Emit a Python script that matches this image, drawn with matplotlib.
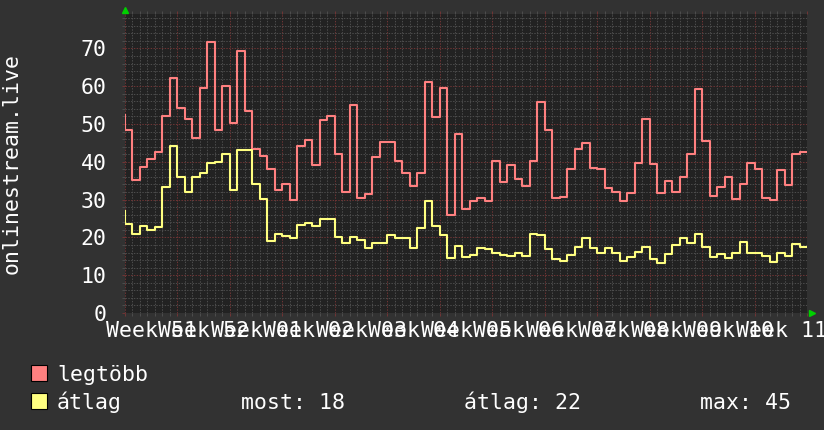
import numpy as np
import matplotlib
matplotlib.use('Agg')
import matplotlib.pyplot as plt
from matplotlib.patches import Rectangle
from matplotlib.lines import Line2D
from matplotlib.transforms import blended_transform_factory

# daily values, 13 weeks
legtobb_start = 52.4
legtobb = [48.4, 35.2, 38.7, 40.7, 42.5, 52.2, 62.1, 54.3, 51.3, 46.4,
           59.4, 71.6, 48.3, 60.1, 50.3, 69.4, 53.4, 43.3, 41.6, 38.1,
           32.5, 34.0, 29.8, 44.3, 45.8, 39.2, 51.1, 52.2, 42.1, 31.9,
           55.0, 30.4, 31.5, 41.4, 45.2, 45.2, 40.2, 37.1, 33.6, 37.1,
           61.2, 51.8, 59.6, 25.9, 47.4, 27.5, 29.7, 30.3, 29.7, 40.2,
           34.7, 39.2, 35.4, 33.7, 40.3, 55.7, 48.4, 30.5, 30.8, 38.1,
           43.4, 44.9, 38.4, 38.1, 33.0, 31.9, 29.7, 31.8, 39.8, 51.4,
           39.3, 31.8, 35.0, 31.9, 36.1, 42.1, 59.3, 45.6, 31.0, 33.4,
           36.1, 30.2, 34.0, 39.6, 38.1, 30.3, 29.9, 37.8, 33.9, 42.0,
           42.7]

atlag_start = 27.0
atlag = [23.5, 20.9, 23.1, 22.0, 22.8, 33.4, 44.3, 36.1, 32.1, 36.1,
         37.0, 39.6, 40.0, 42.0, 32.6, 43.2, 43.2, 34.2, 30.2, 19.0,
         20.9, 20.5, 19.8, 23.3, 23.9, 23.1, 24.9, 24.8, 20.1, 18.6,
         20.1, 19.2, 17.1, 18.4, 18.4, 20.6, 19.8, 19.8, 17.1, 22.6,
         29.7, 23.0, 20.6, 14.5, 17.8, 14.9, 15.3, 17.2, 17.0, 16.0,
         15.3, 15.1, 16.0, 15.1, 20.8, 20.6, 16.9, 14.4, 13.8, 15.3,
         17.5, 19.9, 17.3, 16.0, 17.1, 15.8, 13.8, 14.9, 16.1, 17.5,
         14.2, 13.3, 15.6, 18.0, 19.9, 18.6, 20.8, 17.5, 14.7, 15.6,
         14.5, 16.0, 18.9, 16.0, 16.0, 15.2, 13.6, 16.0, 15.1, 18.3,
         17.5]

week_labels = ['51', '52', '01', '02', '03', '04', '05', '06', '07',
               '08', '09', '10', '11']

legend_stats = ['most: 18', 'átlag: 22', 'max: 45']

BG = '#323232'
CANVAS = '#222222'
MINOR = '#4c4c4c'
MAJOR = '#6e3434'
RED = '#ff8080'
YELLOW = '#ffff80'
FG = '#ffffff'
FS = 15.5

plt.rcParams['font.family'] = ['DejaVu Sans Mono', 'DejaVu Sans']

W, H = 824, 430
fig = plt.figure(figsize=(W / 100, H / 100), dpi=100, facecolor=BG)

def fx(x):
    return x / W

def fy(y):
    return 1 - y / H

ax = fig.add_axes([fx(124.8), fy(313), 682.5 / W, 299 / H])
ax.set_facecolor(CANVAS)
for s in ax.spines.values():
    s.set_visible(False)

ndays = len(legtobb)
xs = np.concatenate([[0], np.arange(ndays + 1)])
for start, vals, col in [(legtobb_start, legtobb, RED), (atlag_start, atlag, YELLOW)]:
    ys = np.concatenate([[start], vals, [vals[-1]]])
    ax.step(xs, ys, where='post', color=col, lw=1.5, zorder=3)

ax.set_xlim(0, ndays)
ax.set_ylim(0, 299 / 3.78)

ax.set_xticks(np.arange(0, ndays + 1, 7))
ax.set_xticks(np.arange(0, ndays + 1, 1), minor=True)
ax.set_yticks(np.arange(0, 71, 10))
ax.set_yticks(np.arange(0, 79, 2), minor=True)
ax.grid(which='minor', color=MINOR, ls=(0, (1.4, 1.4)), lw=0.72)
ax.grid(which='major', color=MAJOR, ls=(0, (1.4, 1.4)), lw=0.72)
ax.set_axisbelow(True)

ax.tick_params(which='both', direction='out', length=2.5, width=0.72,
               top=True, labelbottom=False)
ax.tick_params(which='major', color=MAJOR)
ax.tick_params(which='minor', color=MINOR)
ax.tick_params(axis='y', which='major', labelsize=FS, labelcolor=FG, pad=10.5)

tr = blended_transform_factory(ax.transData, fig.transFigure)
for k, lab in enumerate(week_labels):
    ax.text(7 * k + 3.5, fy(337.3), 'Week ' + lab, transform=tr, ha='center',
            va='baseline', fontsize=FS, color=FG, clip_on=False)

fig.text(fx(11.7), fy(164), 'onlinestream.live', rotation=90, ha='center',
         va='center', fontsize=FS, color=FG)

# axis arrows
fig.add_artist(Line2D([fx(124.8)], [fy(10)], marker='^', ms=5, color='#00d000',
                      mec='#00d000', transform=fig.transFigure))
fig.add_artist(Line2D([fx(811.5)], [fy(313)], marker='>', ms=5, color='#00d000',
                      mec='#00d000', transform=fig.transFigure))

# legend
for top, col in [(365, RED), (393.3, YELLOW)]:
    fig.add_artist(Rectangle((fx(31.5), fy(top + 16)), 15.8 / W, 16 / H,
                             transform=fig.transFigure, fc=col, ec='black', lw=0.8))
fig.text(fx(57), fy(381), 'legtöbb', ha='left', va='baseline', fontsize=FS, color=FG)
fig.text(fx(57), fy(409.3), 'átlag', ha='left', va='baseline', fontsize=FS, color=FG)
for x, s in zip([241, 464, 700], legend_stats):
    fig.text(fx(x), fy(409.3), s, ha='left', va='baseline', fontsize=FS, color=FG)

fig.savefig('out.png', dpi=100, facecolor=BG)
